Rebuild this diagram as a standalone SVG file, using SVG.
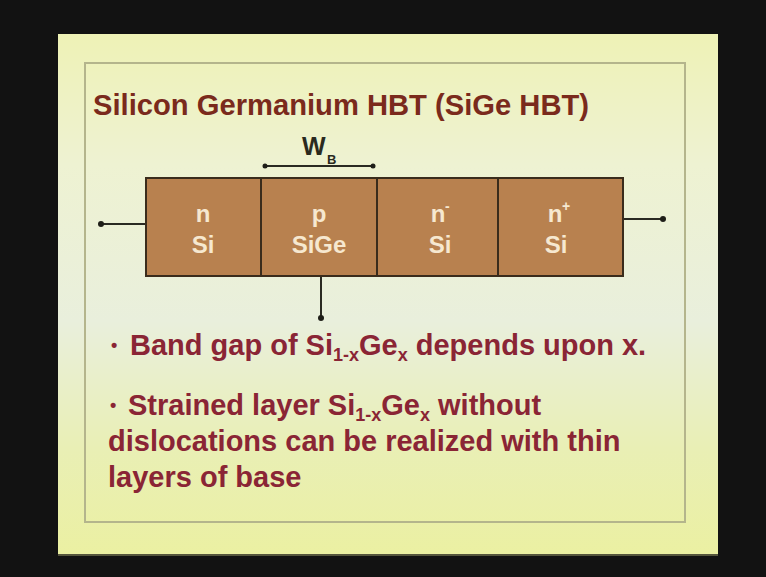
<svg xmlns="http://www.w3.org/2000/svg" width="766" height="577" viewBox="0 0 766 577">
<defs>
<linearGradient id="slideBg" x1="0" y1="0" x2="0" y2="1">
<stop offset="0" stop-color="#eef2b6"/>
<stop offset="0.25" stop-color="#eef2d2"/>
<stop offset="0.55" stop-color="#e9efdc"/>
<stop offset="0.8" stop-color="#e9efb4"/>
<stop offset="1" stop-color="#ebf0a2"/>
</linearGradient>
<style>
.title{font-family:"Liberation Sans",Arial,sans-serif;font-weight:bold;font-size:29px;fill:#7a2a1c}
.bul{font-family:"Liberation Sans",Arial,sans-serif;font-weight:bold;font-size:29px;fill:#8a2535}
.sub{font-size:18px}
.dot{font-size:18px}
.cell{fill:#b8814f;stroke:#3a2c1c;stroke-width:2}
.ct{font-family:"Liberation Sans",Arial,sans-serif;font-weight:bold;font-size:24px;fill:#f6e8d0;text-anchor:middle}
.sup{font-family:"Liberation Sans",Arial,sans-serif;font-weight:bold;font-size:14px;fill:#f6e8d0}
.lead{stroke:#2a2a22;stroke-width:2;fill:none}
.pin{fill:#1e1e18}
.wb{font-family:"Liberation Sans",Arial,sans-serif;font-weight:bold;fill:#2a2a1e}
</style>
</defs>
<rect x="0" y="0" width="766" height="577" fill="#121212"/>
<rect x="58" y="34" width="660" height="522" fill="url(#slideBg)"/>
<rect x="58" y="554" width="660" height="2" fill="#55553c"/>
<rect x="85" y="63" width="600" height="459" fill="none" stroke="#b4b58c" stroke-width="2"/>

<g id="title">
<text class="title" x="93" y="115" textLength="496" lengthAdjust="spacingAndGlyphs">Silicon Germanium HBT (SiGe HBT)</text>
</g>

<g id="base-width">
<text class="wb" x="302" y="155" font-size="25">W</text>
<text class="wb" x="327" y="164" font-size="13">B</text>
<line x1="265" y1="166" x2="373" y2="166" stroke="#2a2a22" stroke-width="2"/>
<circle class="pin" cx="265" cy="166" r="2.5"/>
<circle class="pin" cx="373" cy="166" r="2.5"/>
</g>

<g id="connectors">
<line class="lead" x1="101" y1="224" x2="146" y2="224"/>
<circle class="pin" cx="101" cy="224" r="3"/>
<line class="lead" x1="623" y1="219" x2="663" y2="219"/>
<circle class="pin" cx="663" cy="219" r="3"/>
<line class="lead" x1="321" y1="276" x2="321" y2="318"/>
<circle class="pin" cx="321" cy="318" r="3"/>
</g>

<g id="emitter">
<rect class="cell" x="146" y="178" width="115" height="98"/>
<text class="ct" x="203" y="222">n</text>
<text class="ct" x="203" y="253">Si</text>
</g>
<g id="base">
<rect class="cell" x="261" y="178" width="116" height="98"/>
<text class="ct" x="319" y="222">p</text>
<text class="ct" x="319" y="253">SiGe</text>
</g>
<g id="collector">
<rect class="cell" x="377" y="178" width="121" height="98"/>
<text class="ct" x="438" y="222">n</text>
<text class="sup" x="445" y="211">-</text>
<text class="ct" x="440" y="253">Si</text>
</g>
<g id="subcollector">
<rect class="cell" x="498" y="178" width="125" height="98"/>
<text class="ct" x="555" y="222">n</text>
<text class="sup" x="562" y="211">+</text>
<text class="ct" x="556" y="253">Si</text>
</g>

<g id="bullet1">
<text class="bul dot" x="111" y="351">•</text>
<text class="bul" x="130" y="355">Band gap of Si<tspan class="sub" dy="6">1-x</tspan><tspan dy="-6">Ge</tspan><tspan class="sub" dy="6">x</tspan><tspan dy="-6"> depends upon x.</tspan></text>
</g>
<g id="bullet2">
<text class="bul dot" x="110" y="411">•</text>
<text class="bul" x="128" y="415">Strained layer Si<tspan class="sub" dy="6">1-x</tspan><tspan dy="-6">Ge</tspan><tspan class="sub" dy="6">x</tspan><tspan dy="-6"> without</tspan></text>
<text class="bul" x="108" y="451">dislocations can be realized with thin</text>
<text class="bul" x="108" y="487">layers of base</text>
</g>
</svg>
